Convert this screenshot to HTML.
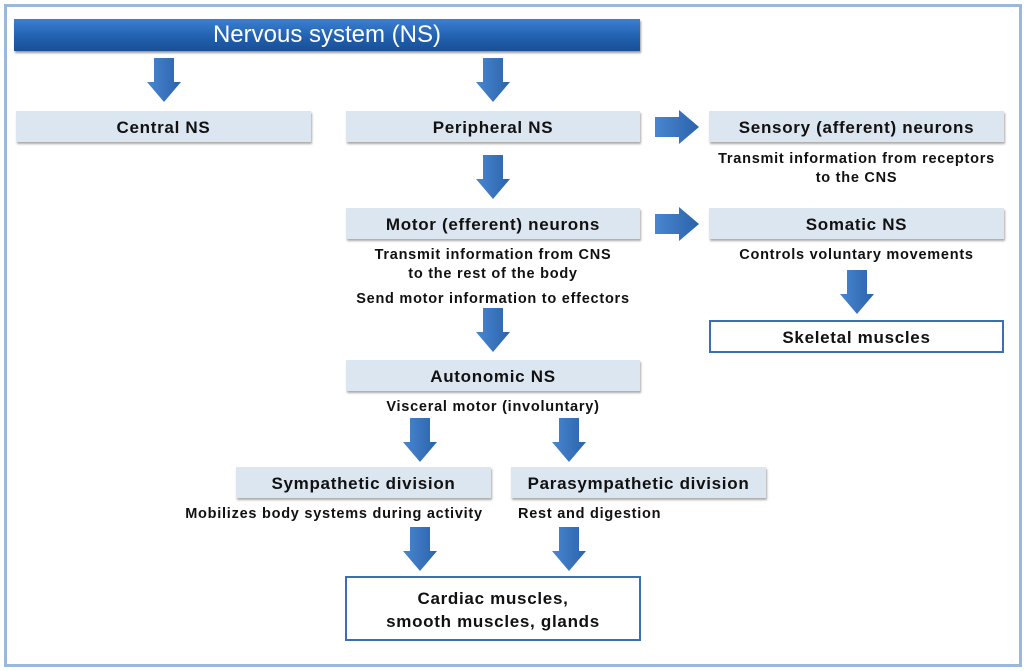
<!DOCTYPE html>
<html><head><style>
body{margin:0;width:1024px;height:671px;background:#fff;position:relative;font-family:"Liberation Sans",Arial,sans-serif;overflow:hidden}
.frame{position:absolute;left:4px;top:4px;width:1012px;height:657px;border:3px solid #9ab8dc}
.top{position:absolute;left:14px;top:19px;width:626px;height:32px;background:linear-gradient(#3d7fd0,#1f5fae 60%,#1a4f94);color:#fff;font-size:24px;text-align:center;line-height:32px;box-shadow:1px 2px 2px #999}
.b{position:absolute;height:31px;background:#dce6f1;box-shadow:1px 2px 2px #aaa;font-weight:bold;font-size:17px;letter-spacing:0.7px;text-align:center;line-height:33px;color:#111;white-space:nowrap}
.w{position:absolute;background:#fff;border:2px solid #3a6fb4;font-weight:bold;font-size:17px;letter-spacing:0.7px;text-align:center;color:#111;box-sizing:border-box}
.t{position:absolute;font-weight:bold;font-size:14.5px;letter-spacing:0.75px;text-align:center;color:#111;line-height:19px;white-space:nowrap}
svg{position:absolute;left:0;top:0}
</style></head><body>
<div class="frame"></div>
<div class="top">Nervous system (NS)</div>
<div class="b" style="left:16px;top:111px;width:295px">Central NS</div>
<div class="b" style="left:346px;top:111px;width:294px">Peripheral NS</div>
<div class="b" style="left:709px;top:111px;width:295px">Sensory (afferent) neurons</div>
<div class="t" style="left:689px;top:150px;width:335px">Transmit information from receptors<br>to the CNS</div>
<div class="b" style="left:346px;top:208px;width:294px">Motor (efferent) neurons</div>
<div class="t" style="left:326px;top:246px;width:334px">Transmit information from CNS<br>to the rest of the body</div>
<div class="t" style="left:316px;top:290px;width:354px">Send motor information to effectors</div>
<div class="b" style="left:709px;top:208px;width:295px">Somatic NS</div>
<div class="t" style="left:709px;top:246px;width:295px">Controls voluntary movements</div>
<div class="w" style="left:709px;top:320px;width:295px;height:33px;line-height:31px">Skeletal muscles</div>
<div class="b" style="left:346px;top:360px;width:294px">Autonomic NS</div>
<div class="t" style="left:346px;top:398px;width:294px">Visceral motor (involuntary)</div>
<div class="b" style="left:236px;top:467px;width:255px">Sympathetic division</div>
<div class="b" style="left:511px;top:467px;width:255px">Parasympathetic division</div>
<div class="t" style="left:164px;top:505px;width:340px">Mobilizes body systems during activity</div>
<div class="t" style="left:518px;top:505px;width:160px;text-align:left">Rest and digestion</div>
<div class="w" style="left:345px;top:576px;width:296px;height:65px;padding-top:9px;line-height:23px">Cardiac muscles,<br>smooth muscles, glands</div>
<svg width="1024" height="671">
<defs>
<linearGradient id="g" x1="0" x2="1"><stop offset="0" stop-color="#4a86d0"/><stop offset="1" stop-color="#2a63ac"/></linearGradient>
<symbol id="d" viewBox="0 0 34 44" width="34" height="44"><path d="M7 0H27V24H34L17 44L0 24H7Z" fill="url(#g)"/></symbol>
<symbol id="r" viewBox="0 0 44 34" width="44" height="34"><path d="M0 7H24V0L44 17L24 34V27H0Z" fill="url(#g)"/></symbol>
</defs>
<use href="#d" x="147" y="58"/>
<use href="#d" x="476" y="58"/>
<use href="#d" x="476" y="155"/>
<use href="#d" x="476" y="308"/>
<use href="#d" x="403" y="418"/>
<use href="#d" x="552" y="418"/>
<use href="#d" x="403" y="527"/>
<use href="#d" x="552" y="527"/>
<use href="#d" x="840" y="270"/>
<use href="#r" x="655" y="110"/>
<use href="#r" x="655" y="207"/>
</svg>
</body></html>
